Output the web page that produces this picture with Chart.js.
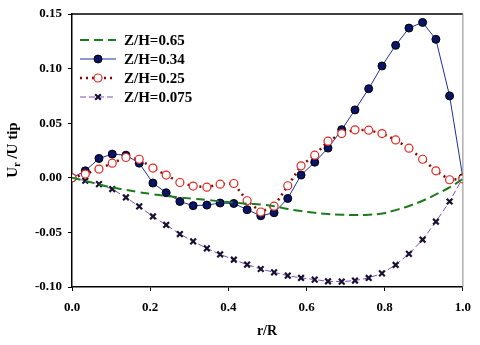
<!DOCTYPE html>
<html>
<head>
<meta charset="utf-8">
<script src="https://cdn.jsdelivr.net/npm/chart.js@4"></script>
<style>
  body { margin: 0; background: #fff; }
  canvas { display: block; }
</style>
</head>
<body>
<canvas id="profileChart" width="480" height="345"></canvas>
<script>
// r/R stations (30 per profile)
const rR = [0.000, 0.034, 0.069, 0.103, 0.138, 0.172, 0.207, 0.241, 0.276, 0.310,
            0.345, 0.379, 0.414, 0.448, 0.483, 0.517, 0.552, 0.586, 0.621, 0.655,
            0.690, 0.724, 0.759, 0.793, 0.828, 0.862, 0.897, 0.931, 0.966, 1.000];

const zh065 = [0, -0.0028, -0.006, -0.0088, -0.011, -0.0132, -0.015, -0.0167, -0.018, -0.0192,
               -0.0203, -0.0215, -0.0226, -0.0237, -0.0245, -0.026, -0.0285, -0.0305, -0.032, -0.0332,
               -0.0338, -0.034, -0.0338, -0.0327, -0.0296, -0.0258, -0.021, -0.0152, -0.0088, -0.001];

const zh034 = [0, 0.0064, 0.0177, 0.0217, 0.0207, 0.0134, -0.0048, -0.0137, -0.0217, -0.0255,
               -0.025, -0.0231, -0.0235, -0.0292, -0.0348, -0.032, -0.0189, 0.0025, 0.0143, 0.0272,
               0.0441, 0.0622, 0.0816, 0.1024, 0.1213, 0.1371, 0.1423, 0.1268, 0.075, 0];

const zh025 = [0, 0.0034, 0.008, 0.0134, 0.0186, 0.017, 0.0089, 0.0025, -0.0043, -0.0076,
               -0.0086, -0.0058, -0.0052, -0.021, -0.0313, -0.026, -0.0073, 0.011, 0.0207, 0.0335,
               0.0405, 0.0439, 0.0436, 0.0405, 0.0347, 0.0271, 0.017, 0.0064, -0.0018, -0.001];

const zh0075 = [0, -0.0027, -0.0058, -0.0103, -0.018, -0.0262, -0.0354, -0.0432, -0.0515, -0.0582,
                -0.0646, -0.0701, -0.075, -0.0795, -0.0835, -0.0866, -0.0896, -0.0917, -0.0932, -0.0948,
                -0.0951, -0.0941, -0.0917, -0.0875, -0.0798, -0.0697, -0.0567, -0.0402, -0.0217, 0];

const seriesLabels = ['Z/H=0.65', 'Z/H=0.34', 'Z/H=0.25', 'Z/H=0.075'];

const serif = "'Liberation Serif', 'Times New Roman', serif";

function toPoints(values) {
  return values.map((v, i) => ({ x: rR[i], y: v }));
}

const datasets = [
  {
    label: seriesLabels[0],
    data: toPoints(zh065),
    borderColor: '#1e7a1e',
    borderWidth: 2,
    borderDash: [9, 5],
    pointRadius: 0,
    tension: 0.4,
    order: 0
  },
  {
    label: seriesLabels[1],
    data: toPoints(zh034),
    borderColor: '#1f2fa0',
    borderWidth: 1,
    pointStyle: 'circle',
    pointRadius: 4,
    pointBackgroundColor: '#0a1466',
    pointBorderColor: '#000',
    pointBorderWidth: 1,
    order: 2
  },
  {
    label: seriesLabels[2],
    data: toPoints(zh025),
    borderColor: '#8b0000',
    borderWidth: 2.5,
    borderDash: [2, 4],
    pointStyle: 'circle',
    pointRadius: 4,
    pointBackgroundColor: '#fff',
    pointBorderColor: '#e3261f',
    pointBorderWidth: 1.2,
    order: 1
  },
  {
    label: seriesLabels[3],
    data: toPoints(zh0075),
    borderColor: '#7a4fc4',
    borderWidth: 1,
    borderDash: [6, 3],
    pointStyle: 'crossRot',
    pointRadius: 4,
    pointBorderColor: '#1a1030',
    pointBorderWidth: 2.2,
    order: 3
  }
];

// legend, frame and axis titles drawn by hand
const decorations = {
  id: 'decorations',
  afterDraw(chart) {
    const ctx = chart.ctx;
    const area = chart.chartArea;
    ctx.save();

    // top and right frame
    ctx.setLineDash([]);
    ctx.strokeStyle = '#000';
    ctx.lineWidth = 1.5;
    ctx.beginPath();
    ctx.moveTo(area.left, area.top);
    ctx.lineTo(area.right, area.top);
    ctx.stroke();
    ctx.strokeStyle = '#888';
    ctx.lineWidth = 1;
    ctx.beginPath();
    ctx.moveTo(area.right, area.top);
    ctx.lineTo(area.right, area.bottom);
    ctx.stroke();

    // legend
    const rowY = [40, 59, 78, 97];
    chart.data.datasets.forEach((ds, i) => {
      const y = rowY[i];
      ctx.setLineDash(ds.borderDash || []);
      ctx.strokeStyle = ds.borderColor;
      ctx.lineWidth = ds.borderWidth;
      ctx.beginPath();
      ctx.moveTo(80, y);
      ctx.lineTo(116, y);
      ctx.stroke();
      ctx.setLineDash([]);
      if (ds.pointRadius > 0) {
        ctx.fillStyle = ds.pointBackgroundColor || ds.pointBorderColor;
        ctx.strokeStyle = ds.pointBorderColor;
        ctx.lineWidth = ds.pointBorderWidth;
        Chart.helpers.drawPoint(ctx, {
          pointStyle: ds.pointStyle,
          radius: ds.pointRadius,
          rotation: 0,
          borderWidth: ds.pointBorderWidth
        }, 98, y);
      }
      ctx.fillStyle = '#000';
      ctx.font = 'bold 15px ' + serif;
      ctx.textAlign = 'left';
      ctx.textBaseline = 'middle';
      ctx.fillText(ds.label, 124, y + 1);
    });

    // x title
    ctx.fillStyle = '#000';
    ctx.font = 'bold 14px ' + serif;
    ctx.textAlign = 'center';
    ctx.textBaseline = 'middle';
    ctx.fillText('r/R', 267, 331);

    // y title with subscript
    ctx.translate(17, 150);
    ctx.rotate(-Math.PI / 2);
    ctx.textBaseline = 'alphabetic';
    ctx.textAlign = 'left';
    const big = 'bold 15px ' + serif;
    const small = 'bold 10px ' + serif;
    ctx.font = big;
    const wU = ctx.measureText('U').width;
    const wRest = ctx.measureText(' /U tip').width;
    ctx.font = small;
    const wr = ctx.measureText('r').width;
    let x = -(wU + wr + wRest) / 2;
    ctx.font = big;
    ctx.fillText('U', x, 0);
    x += wU;
    ctx.font = small;
    ctx.fillText('r', x, 3);
    x += wr;
    ctx.font = big;
    ctx.fillText(' /U tip', x, 0);

    ctx.restore();
  }
};

new Chart(document.getElementById('profileChart'), {
  type: 'line',
  data: { datasets: datasets },
  options: {
    responsive: false,
    animation: false,
    devicePixelRatio: 1,
    layout: { padding: { top: 14, right: 17, left: 0, bottom: 0 } },
    plugins: {
      legend: { display: false },
      tooltip: { enabled: false }
    },
    scales: {
      x: {
        type: 'linear',
        min: 0,
        max: 1,
        afterFit(scale) { scale.height = 58; },
        grid: { drawOnChartArea: false, drawTicks: true, tickLength: 4, tickColor: '#000' },
        border: { color: '#000', width: 1.5 },
        ticks: {
          stepSize: 0.2,
          padding: 9,
          color: '#000',
          font: { family: serif, size: 13, weight: 'bold' },
          callback: v => v.toFixed(1)
        }
      },
      y: {
        min: -0.10,
        max: 0.15,
        afterFit(scale) { scale.width = 72; },
        grid: { drawOnChartArea: false, drawTicks: true, tickLength: 4, tickColor: '#000' },
        border: { color: '#000', width: 1.5 },
        ticks: {
          stepSize: 0.05,
          padding: 6,
          color: '#000',
          font: { family: serif, size: 13, weight: 'bold' },
          callback: v => v.toFixed(2)
        }
      }
    }
  },
  plugins: [decorations]
});
</script>
</body>
</html>
